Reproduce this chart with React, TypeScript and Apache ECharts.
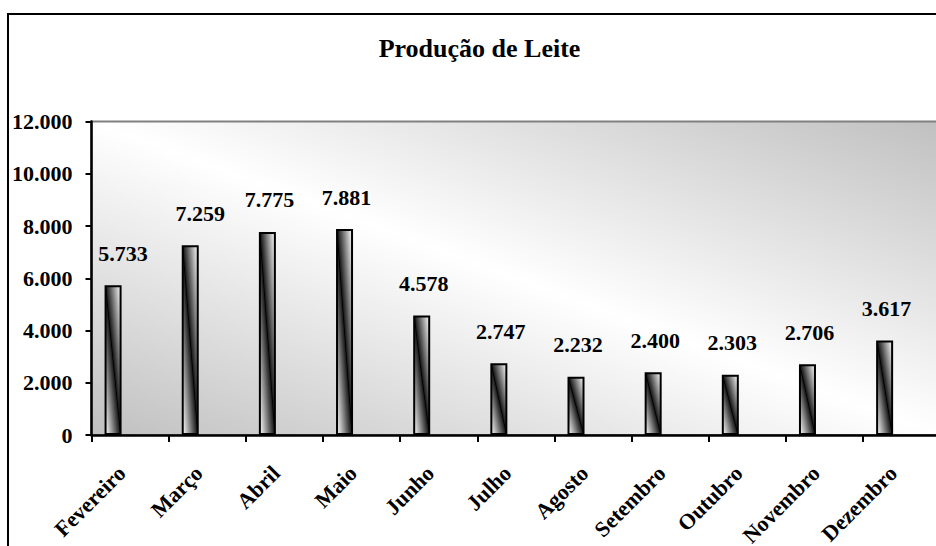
import React, { useEffect, useRef } from "react";
import * as echarts from "echarts";

const categories = [
  "Fevereiro",
  "Março",
  "Abril",
  "Maio",
  "Junho",
  "Julho",
  "Agosto",
  "Setembro",
  "Outubro",
  "Novembro",
  "Dezembro",
];
const production = [5733, 7259, 7775, 7881, 4578, 2747, 2232, 2400, 2303, 2706, 3617];
const yMin = 0;
const yMax = 12000;
const yInterval = 2000;
const chartTitle = "Produção de Leite";

const FONT = "'Liberation Serif', 'Times New Roman', serif";

const fmt = (v: number) =>
  String(Math.round(v)).replace(/\B(?=(\d{3})+(?!\d))/g, ".");

export default function App() {
  const ref = useRef<HTMLDivElement>(null);

  useEffect(() => {
    if (!ref.current) return;
    const chart = echarts.init(ref.current, undefined, { renderer: "svg" });

    const barFill = {
      type: "linear",
      x: 0,
      y: 1,
      x2: 1,
      y2: 0,
      colorStops: [
        { offset: 0, color: "#ffffff" },
        { offset: 0.25, color: "#8a8a8a" },
        { offset: 0.47, color: "#202020" },
        { offset: 0.5, color: "#000000" },
        { offset: 0.53, color: "#202020" },
        { offset: 0.75, color: "#8a8a8a" },
        { offset: 1, color: "#ffffff" },
      ],
    };

    const plotFill = {
      type: "linear",
      x: 0,
      y: 1,
      x2: 1,
      y2: 0,
      colorStops: [
        { offset: 0, color: "#c0c0c0" },
        { offset: 0.5, color: "#ffffff" },
        { offset: 1, color: "#c0c0c0" },
      ],
    };

    const option: any = {
      animation: false,
      backgroundColor: "#ffffff",
      graphic: [
        {
          type: "rect",
          silent: true,
          z: 100,
          shape: { x: 8, y: 14, width: 1000, height: 700 },
          style: { fill: "none", stroke: "#000000", lineWidth: 2 },
        },
        {
          type: "text",
          silent: true,
          style: {
            text: chartTitle,
            x: 479.5,
            y: 48,
            textAlign: "center",
            textVerticalAlign: "middle",
            align: "center",
            verticalAlign: "middle",
            font: `bold 26px ${FONT}`,
            fill: "#000000",
          },
        },
      ],
      grid: {
        left: 91.5,
        top: 121.5,
        right: -4.2,
        bottom: 111,
        show: true,
        containLabel: false,
        outerBoundsMode: "none",
        backgroundColor: plotFill,
        borderColor: "#808080",
        borderWidth: 2,
      },
      xAxis: {
        type: "category",
        data: categories,
        boundaryGap: true,
        axisLine: { show: true, lineStyle: { color: "#000000", width: 2.5 } },
        axisTick: {
          show: true,
          interval: 0,
          length: 7,
          lineStyle: { color: "#000000", width: 2 },
        },
        axisLabel: {
          interval: 0,
          rotate: 45,
          margin: 26,
          padding: [0, 12, 0, 0],
          fontFamily: FONT,
          fontWeight: "bold",
          fontSize: 22,
          color: "#000000",
        },
        splitLine: { show: false },
      },
      yAxis: {
        type: "value",
        min: yMin,
        max: yMax,
        interval: yInterval,
        axisLine: { show: true, lineStyle: { color: "#000000", width: 2.5 } },
        axisTick: { show: true, length: 6, lineStyle: { color: "#000000", width: 2 } },
        axisLabel: {
          margin: 19,
          formatter: (v: number) => fmt(v),
          fontFamily: FONT,
          fontWeight: "bold",
          fontSize: 22,
          color: "#000000",
        },
        splitLine: { show: false },
      },
      series: [
        {
          type: "bar",
          barWidth: 17,
          barGap: "100%",
          data: production.map((v, i) =>
            i < 2 ? { value: v, label: { offset: [10, 0] } } : v
          ),
          itemStyle: { color: barFill, borderColor: "#000000", borderWidth: 2 },
          label: {
            show: true,
            position: "top",
            distance: 21,
            offset: [2, 0],
            formatter: (p: any) => fmt(p.value),
            fontFamily: FONT,
            fontWeight: "bold",
            fontSize: 22,
            color: "#000000",
          },
        },
        {
          type: "bar",
          barWidth: 17,
          barGap: "100%",
          data: categories.map(() => null),
          itemStyle: { color: "transparent" },
        },
      ],
    };

    chart.setOption(option);
    return () => chart.dispose();
  }, []);

  return (
    <div
      ref={ref}
      style={{ position: "fixed", left: 0, top: 0, width: 936, height: 546 }}
    />
  );
}
